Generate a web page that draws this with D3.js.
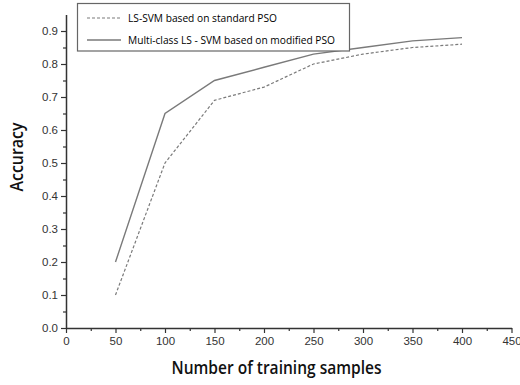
<!DOCTYPE html>
<html><head><meta charset="utf-8">
<script src="https://cdn.jsdelivr.net/npm/d3@7"></script>
<style>body{margin:0;background:#fff}</style>
</head><body>
<svg id="c" width="520" height="385"></svg>
<script>
const samples = [50, 100, 150, 200, 250, 300, 350, 400];
const standardPSO = [0.10, 0.50, 0.69, 0.73, 0.80, 0.83, 0.85, 0.86];
const modifiedPSO = [0.20, 0.65, 0.75, 0.79, 0.83, 0.85, 0.87, 0.88];
const seriesNames = ["LS-SVM based on standard PSO", "Multi-class LS - SVM based on modified PSO"];
const xTicks = [0, 50, 100, 150, 200, 250, 300, 350, 400, 450];
const yTicks = [0.0, 0.1, 0.2, 0.3, 0.4, 0.5, 0.6, 0.7, 0.8, 0.9];
const xTitle = "Number of training samples";
const yTitle = "Accuracy";

const svg = d3.select("#c");
const x = d3.scaleLinear().domain([0, 450]).range([66, 511.5]);
const y = d3.scaleLinear().domain([0, 0.95]).range([328, 14.5]);
const axisColor = "#333";
const lineColor = "#7a7a7a";
const labelFont = "'Liberation Sans', Arial, sans-serif";
const titleFont = "'Open Sans', 'Noto Sans', sans-serif";

// minor ticks
const gxm = svg.append("g").attr("transform", `translate(0,${y(0)})`)
  .call(d3.axisBottom(x).tickValues(d3.range(25, 450, 50)).tickSize(3).tickFormat(""));
const gym = svg.append("g").attr("transform", `translate(${x(0)},0)`)
  .call(d3.axisLeft(y).tickValues(d3.range(0.05, 0.95, 0.1)).tickSize(3).tickFormat(""));
[gxm, gym].forEach(g => { g.select(".domain").remove(); g.selectAll("line").attr("stroke", axisColor).attr("stroke-width", 1.2); });

const gx = svg.append("g").attr("transform", `translate(0,${y(0)})`)
  .call(d3.axisBottom(x).tickValues(xTicks).tickSize(5).tickPadding(4).tickSizeOuter(0).tickFormat(d3.format("d")));
const gy = svg.append("g").attr("transform", `translate(${x(0)},0)`)
  .call(d3.axisLeft(y).tickValues(yTicks).tickSize(5).tickPadding(3).tickSizeOuter(0).tickFormat(d3.format(".1f")));
[gx, gy].forEach(g => {
  g.select(".domain").attr("stroke", axisColor).attr("stroke-width", 1.5);
  g.selectAll("line").attr("stroke", axisColor).attr("stroke-width", 1.2);
  g.selectAll("text").attr("fill", "#333").style("font-family", labelFont).style("font-size", "11.5px");
});

const line = d3.line().x((d, i) => x(samples[i])).y(d => y(d));
svg.append("path").datum(standardPSO).attr("d", line).attr("fill", "none")
  .attr("stroke", lineColor).attr("stroke-width", 1.2).attr("stroke-dasharray", "3,2");
svg.append("path").datum(modifiedPSO).attr("d", line).attr("fill", "none")
  .attr("stroke", lineColor).attr("stroke-width", 1.4);

// legend
const lg = svg.append("g");
lg.append("rect").attr("x", 77.5).attr("y", 3.5).attr("width", 272).attr("height", 47.5)
  .attr("fill", "#fff").attr("stroke", "#666").attr("stroke-width", 1.2);
const legendY = [18, 40];
const widths = [149, 207];
seriesNames.forEach((n, i) => {
  lg.append("line").attr("x1", 87).attr("x2", 121).attr("y1", legendY[i]).attr("y2", legendY[i])
    .attr("stroke", lineColor).attr("stroke-width", i ? 1.4 : 1.2).attr("stroke-dasharray", i ? null : "3,2");
  lg.append("text").attr("x", 128).attr("y", legendY[i]).attr("dy", "0.35em").text(n)
    .attr("textLength", widths[i]).attr("lengthAdjust", "spacingAndGlyphs")
    .style("font-family", titleFont).style("font-size", "11px").attr("fill", "#000");
});

svg.append("text").attr("x", 171.5).attr("y", 374).text(xTitle)
  .attr("textLength", 210).attr("lengthAdjust", "spacingAndGlyphs")
  .style("font-family", titleFont).style("font-size", "17.5px").style("font-weight", 600).attr("fill", "#111");
svg.append("text").attr("transform", "translate(23,157) rotate(-90)").attr("text-anchor", "middle")
  .text(yTitle).attr("textLength", 69).attr("lengthAdjust", "spacingAndGlyphs")
  .style("font-family", titleFont).style("font-size", "17.5px").style("font-weight", 600).attr("fill", "#111");
</script>
</body></html>
